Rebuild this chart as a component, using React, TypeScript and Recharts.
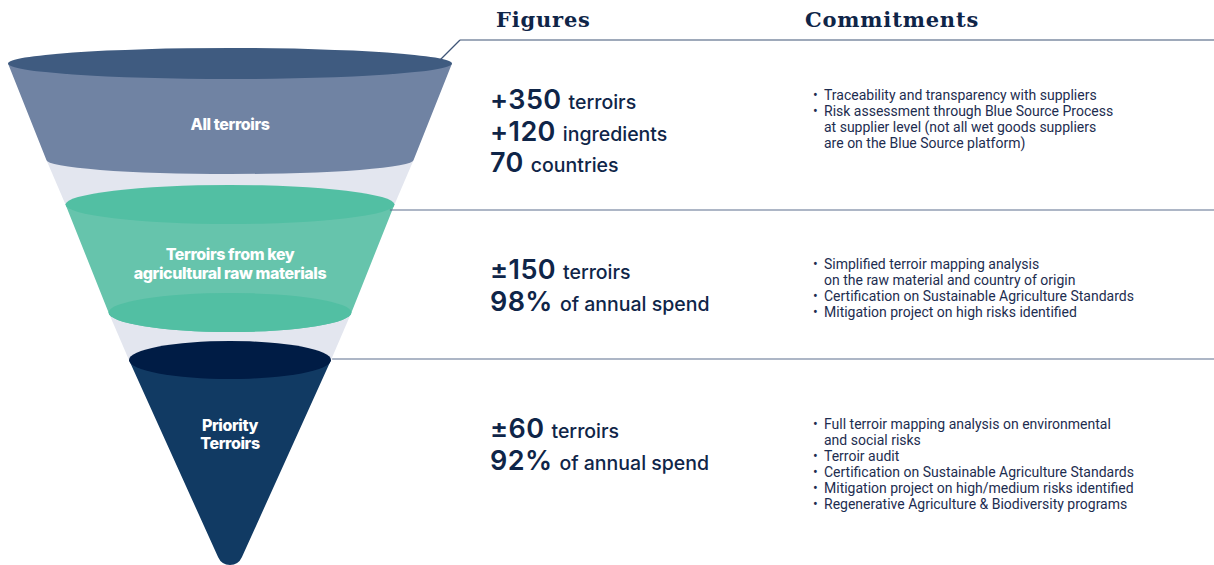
import { ComposedChart, ReferenceArea, ReferenceLine, Scatter, XAxis, YAxis } from 'recharts'

// Funnel stages. Widths are % of the funnel mouth, depths are % of the funnel height.
const stageLabels = [['All terroirs'], ['Terroirs from key', 'agricultural raw materials'], ['Priority', 'Terroirs']]
const stageTopWidth = [100, 74.1, 45.5]
const stageBottomWidth = [82.7, 54.7, 0]
const stageTopDepth = [0.1, 28.3, 59.4]
const stageBottomDepth = [19.4, 49.9, 104.1]
const stageTopCap = [3.1, 3.9, 3.8]
const stageBottomCap = [2.8, 3.9, 0]
const stageLabelDepth = [12.2, 40.1, 74.2]

// Figures column
const figureValues = [['+350', '+120', '70'], ['±150', '98%'], ['±60', '92%']]
const figureUnits = [
  ['terroirs', 'ingredients', 'countries'],
  ['terroirs', 'of annual spend'],
  ['terroirs', 'of annual spend'],
]

// Commitments column, one entry per bullet (already wrapped)
const commitments = [
  [
    ['Traceability and transparency with suppliers'],
    ['Risk assessment through Blue Source Process', 'at supplier level (not all wet goods suppliers', 'are on the Blue Source platform)'],
  ],
  [
    ['Simplified terroir mapping analysis', 'on the raw material and country of origin'],
    ['Certification on Sustainable Agriculture Standards'],
    ['Mitigation project on high risks identified'],
  ],
  [
    ['Full terroir mapping analysis on environmental', 'and social risks'],
    ['Terroir audit'],
    ['Certification on Sustainable Agriculture Standards'],
    ['Mitigation project on high/medium risks identified'],
    ['Regenerative Agriculture & Biodiversity programs'],
  ],
]

// divider rules between the rows (depth, start along the width axis)
const dividerDepth = [-4.6, 29.4, 59.2]
const dividerFrom = [51.8, 36, 23]

const W = 1214
const H = 565
const NAVY = '#0f2548'
const GAP = '#e3e6ef'
const capFill = ['#3f5b80', '#52bfa3', '#001c45']
const bodyFill = ['#7083a3', '#66c4ac', '#113a63']
const bottomCapFill = [null, '#52bfa3', null]

const figureBaseline = [109, 279, 438]
const commitBaseline = [100, 269, 429]

function frustum(i: number | null, ratio: number, depthSpan: number) {
  return (p: any) => {
    const { x, y, width, height } = p
    const cx = x + width / 2
    const hwT = width / 2
    const hwB = hwT * ratio
    const yB = y + height
    const k = height / depthSpan
    if (i === null) {
      return <path d={`M${cx - hwT},${y}L${cx - hwB},${yB}L${cx + hwB},${yB}L${cx + hwT},${y}Z`} fill={GAP} />
    }
    const ryT = stageTopCap[i] * k
    const ryB = stageBottomCap[i] * k
    let d: string
    if (hwB > 0) {
      d = `M${cx - hwT},${y}L${cx - hwB},${yB}A${hwB},${ryB} 0 0 0 ${cx + hwB},${yB}L${cx + hwT},${y}Z`
    } else {
      // rounded tip of the cone
      const r = 13
      const L = Math.hypot(hwT, height)
      const t = (r * height) / hwT
      const lx = cx - (hwT * t) / L
      const ly = yB - (height * t) / L
      const rx = cx + (hwT * t) / L
      d = `M${cx - hwT},${y}L${lx},${ly}A${r},${r} 0 0 0 ${rx},${ly}L${cx + hwT},${y}Z`
    }
    const bc = bottomCapFill[i]
    return (
      <g>
        <path d={d} fill={bodyFill[i]} />
        {bc && hwB > 0 ? <ellipse cx={cx} cy={yB} rx={hwB} ry={ryB} fill={bc} /> : null}
        <ellipse cx={cx} cy={y} rx={hwT} ry={ryT} fill={capFill[i]} />
      </g>
    )
  }
}

function StageLabel(p: any) {
  const lines: string[] = p.payload.lines
  const step = 18.5
  const y0 = p.cy - ((lines.length - 1) * step) / 2 + 5.8
  return (
    <text
      x={p.cx}
      textAnchor="middle"
      fill="#fff"
      fontFamily="Inter, sans-serif"
      fontWeight={800}
      fontSize={16}
      letterSpacing={-0.4}
    >
      {lines.map((l, j) => (
        <tspan key={j} x={p.cx} y={y0 + j * step}>
          {l}
        </tspan>
      ))}
    </text>
  )
}

export default function App() {
  const labelPoints = stageLabels.map((lines, i) => ({ x: 0, y: stageLabelDepth[i], lines }))
  const gaps = stageTopWidth.slice(1).map((w, j) => ({
    top: stageBottomDepth[j],
    bottom: stageTopDepth[j + 1],
    topWidth: stageBottomWidth[j],
    bottomWidth: w,
  }))

  return (
    <div style={{ position: 'absolute', left: 0, top: 0, width: W, height: H, background: '#fff', overflow: 'hidden' }}>
      <ComposedChart width={W} height={H} data={labelPoints} margin={{ top: 63, right: 762, bottom: 2, left: 8 }}>
        <XAxis dataKey="x" type="number" domain={[-50, 50]} hide />
        <YAxis dataKey="y" type="number" domain={[0, 100]} reversed hide />
        {gaps.map((g, j) => (
          <ReferenceArea
            key={`gap${j}`}
            x1={-g.topWidth / 2}
            x2={g.topWidth / 2}
            y1={g.top}
            y2={g.bottom}
            ifOverflow="visible"
            shape={frustum(null, g.bottomWidth / g.topWidth, g.bottom - g.top)}
          />
        ))}
        {stageTopWidth.map((w, i) => (
          <ReferenceArea
            key={`stage${i}`}
            x1={-w / 2}
            x2={w / 2}
            y1={stageTopDepth[i]}
            y2={stageBottomDepth[i]}
            ifOverflow="visible"
            shape={frustum(i, stageBottomWidth[i] / w, stageBottomDepth[i] - stageTopDepth[i])}
          />
        ))}
        <ReferenceLine
          segment={[
            { x: 47.3, y: -0.6 },
            { x: dividerFrom[0], y: dividerDepth[0] },
          ]}
          stroke="#3f5577"
          strokeWidth={1.2}
          ifOverflow="visible"
        />
        {dividerDepth.map((d, i) => (
          <ReferenceLine
            key={`div${i}`}
            segment={[
              { x: dividerFrom[i], y: d },
              { x: 222, y: d },
            ]}
            stroke={i === 0 ? '#3f5577' : '#5d6f8d'}
            strokeWidth={1.2}
            ifOverflow="visible"
          />
        ))}
        <Scatter dataKey="y" isAnimationActive={false} shape={StageLabel} />
      </ComposedChart>

      <svg width={W} height={H} style={{ position: 'absolute', left: 0, top: 0, pointerEvents: 'none' }}>
        <g fontFamily='"DejaVu Serif", serif' fontWeight={700} fontSize={21} letterSpacing={0.8} fill={NAVY}>
          <text x={496} y={27}>Figures</text>
          <text x={805} y={27}>Commitments</text>
        </g>

        <g fontFamily="Inter, sans-serif" fill={NAVY}>
          {figureValues.map((vals, b) =>
            vals.map((v, j) => (
              <text key={`f${b}-${j}`} x={490} y={figureBaseline[b] + j * 31.5}>
                <tspan fontSize={27} fontWeight={600} letterSpacing={0.4}>
                  {v}
                </tspan>
                <tspan fontSize={19.5} fontWeight={500} dx={7}>
                  {figureUnits[b][j]}
                </tspan>
              </text>
            ))
          )}
        </g>

        <g fontFamily="Roboto, sans-serif" fontSize={14} fill="#1d2d50">
          {commitments.map((bullets, b) => {
            let row = 0
            return bullets.map((lines, j) => {
              const start = row
              row += lines.length
              const by = commitBaseline[b] + start * 16
              return (
                <g key={`c${b}-${j}`}>
                  <text x={813} y={by - 0.5} fontSize={14}>
                    •
                  </text>
                  {lines.map((l, k) => (
                    <text key={k} x={824} y={by + k * 16}>
                      {l}
                    </text>
                  ))}
                </g>
              )
            })
          })}
        </g>
      </svg>
    </div>
  )
}
